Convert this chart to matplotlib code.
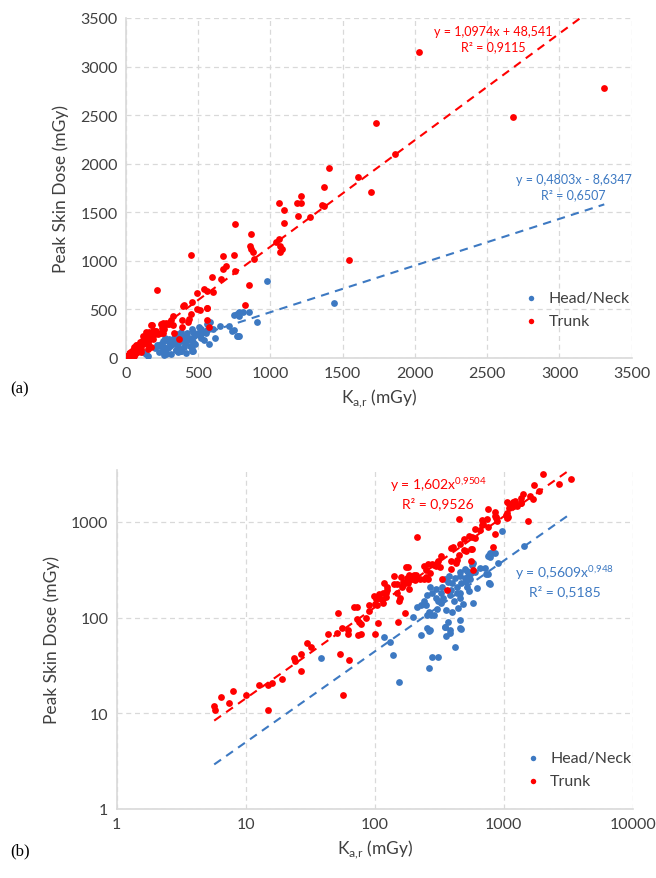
import matplotlib.pyplot as plt
import numpy as np

plt.rcParams['font.family'] = ['Lato', 'DejaVu Sans']

# Ka,r (mGy), Peak Skin Dose (mGy)
head_neck = [(976, 793), (1442, 563), (766, 450), (784, 477), (853, 477), (904, 374),
             (750, 285), (780, 223), (713, 333), (581, 374), (563, 353), (618, 203),
             (577, 141), (503, 319), (531, 271), (507, 237), (751, 444), (773, 229),
             (543, 268), (552, 254), (520, 303), (462, 271), (457, 298), (436, 208),
             (457, 182), (431, 182), (462, 160), (441, 126), (457, 94), (457, 77),
             (418, 49), (380, 69), (348, 79), (369, 89), (387, 192), (369, 234),
             (378, 271), (324, 182), (309, 148), (298, 160), (328, 143), (305, 124),
             (288, 106), (271, 106), (255, 106), (263, 115), (268, 74), (255, 78),
             (279, 39), (309, 39), (263, 30), (227, 66), (199, 102), (214, 129),
             (230, 134), (241, 148), (248, 134), (255, 171), (268, 208), (119, 62),
             (131, 55), (138, 41), (155, 21), (38.3, 37.7), (465, 75), (380, 74),
             (349, 80), (263, 73), (358, 64), (813, 475), (785, 432), (731, 282),
             (765, 227), (350, 250), (400, 230), (420, 260), (330, 210), (380, 170),
             (410, 150), (300, 200), (340, 160), (280, 180), (470, 230), (500, 260),
             (360, 120), (400, 115), (520, 210), (600, 300), (650, 330), (560, 290),
             (540, 190), (480, 140)]

trunk = [(5.7, 12.0), (5.8, 10.9), (6.4, 14.9), (7.4, 12.8), (8.0, 16.9), (10, 15.7),
         (12.6, 19.7), (14.8, 19.7), (16, 20.5), (14.8, 10.8), (19, 22.7), (23.7, 37.7),
         (24.2, 35.3), (26.7, 41.5), (26.9, 27.4), (29.6, 54.4), (32.3, 48.7), (43.2, 66.6),
         (52.3, 112), (51.4, 68.7), (55.5, 77.5), (54.2, 41.8), (62.8, 36.2), (57.1, 15.7),
         (62.5, 73.6), (62.5, 66.6), (68.7, 129), (73.3, 129), (72.5, 96), (75, 90),
         (78, 85), (74.8, 65.8), (78, 66.6), (86, 98), (91, 136), (91, 117), (98, 166),
         (101, 66.6), (106, 88), (108, 175), (116, 179), (123, 179), (111, 155), (103, 155),
         (100, 137), (116, 143), (149, 182), (156, 161), (154, 149), (184, 197), (167, 217),
         (151, 90), (173, 111), (176, 340), (140, 271), (119, 231), (161, 267), (181, 227),
         (204, 246), (223, 250), (250, 267), (266, 294), (122, 164), (124, 192), (105, 134),
         (125, 208), (141, 225), (150, 225), (164, 208), (167, 234), (177, 258), (184, 279),
         (195, 254), (201, 279), (240, 349), (248, 310), (240, 254), (258, 254), (279, 364),
         (296, 349), (305, 373), (334, 254), (387, 323), (575, 316),
         (2030, 3150), (3310, 2780), (2680, 2480), (1728, 2416), (1864, 2100), (1403, 1959),
         (1603, 1866), (1693, 1712), (1370, 1764), (1357, 1572), (1368, 1561), (1213, 1664),
         (1183, 1592), (1211, 1599), (1057, 1599), (1096, 1520), (1188, 1462), (1273, 1448),
         (1094, 1386), (752, 1376), (863, 1273), (858, 1150), (865, 1122), (877, 1088),
         (888, 1022), (1059, 1225), (1040, 1191), (1066, 1156), (1064, 1094), (1082, 1119),
         (673, 1053), (745, 1060), (452, 1060), (690, 947), (673, 916), (757, 892),
         (597, 837), (657, 816), (540, 707), (563, 690), (604, 683), (853, 751),
         (1546, 1012), (826, 546), (561, 517), (512, 497), (212, 700), (494, 669),
         (457, 580), (404, 546), (392, 532), (494, 504), (563, 515), (452, 450),
         (434, 401), (427, 367), (388, 388), (558, 388), (327, 436), (309, 394),
         (286, 353), (323, 340), (258, 360), (180, 340), (208, 278), (365, 196)]

# trend lines (Excel)
lin_trunk = (1.0974, 48.541)
lin_hn = (0.4803, -8.6347)
pow_trunk = (1.602, 0.9504)
pow_hn = (0.5609, 0.948)

hn_x, hn_y = np.array(head_neck).T
tr_x, tr_y = np.array(trunk).T
x_min = min(hn_x.min(), tr_x.min())
x_max = max(hn_x.max(), tr_x.max())

BLUE = '#3d79c2'
RED = '#ff0000'
GRID = '#d9d9d9'
TXT = '#404040'

fig = plt.figure(figsize=(6.56, 8.79), dpi=100)
ax1 = fig.add_axes([0.192, 0.5916, 0.771, 0.3868])
ax2 = fig.add_axes([0.1779, 0.0785, 0.7866, 0.386])


def style(ax, leg_y):
    ax.grid(True, color=GRID, linestyle=(0, (4, 3)), linewidth=0.9)
    ax.set_axisbelow(True)
    for s in ['top', 'right']:
        ax.spines[s].set_visible(False)
    for s in ['left', 'bottom']:
        ax.spines[s].set_color(GRID)
        ax.spines[s].set_linewidth(1.2)
    ax.tick_params(length=0, labelsize=11.5, labelcolor=TXT, pad=6)
    ax.minorticks_off()
    ax.set_xlabel(r'K$_{\mathregular{a{,}r}}$ (mGy)', fontsize=12.5, color=TXT, labelpad=5)
    ax.set_ylabel('Peak Skin Dose (mGy)', fontsize=12.5, color=TXT, labelpad=8)
    ax.scatter(hn_x, hn_y, s=24, color=BLUE, label='Head/Neck', zorder=3, linewidths=0)
    ax.scatter(tr_x, tr_y, s=24, color=RED, label='Trunk', zorder=3, linewidths=0)
    leg = ax.legend(loc='lower right', bbox_to_anchor=(1.025, leg_y), frameon=False,
                    fontsize=11.5, handletextpad=0.1, markerscale=0.8, labelspacing=0.55)
    for t in leg.get_texts():
        t.set_color(TXT)


# (a) linear
style(ax1, 0.045)
xl = np.linspace(x_min, x_max, 200)
ax1.plot(xl, lin_trunk[0] * xl + lin_trunk[1], color=RED, ls=(0, (4, 3)), lw=1.5, zorder=2)
ax1.plot(xl, lin_hn[0] * xl + lin_hn[1], color=BLUE, ls=(0, (4, 3)), lw=1.5, zorder=2)
ax1.set_xlim(0, 3500)
ax1.set_ylim(0, 3500)
ax1.set_xticks(np.arange(0, 3501, 500))
ax1.set_yticks(np.arange(0, 3501, 500))
ax1.text(2543, 3284, 'y = 1,0974x + 48,541\nR² = 0,9115', color=RED, fontsize=9,
         ha='center', va='center', linespacing=1.3)
ax1.text(3097, 1765, 'y = 0,4803x - 8,6347\nR² = 0,6507', color=BLUE, fontsize=9,
         ha='center', va='center', linespacing=1.3)

# (b) log-log
style(ax2, 0.02)
ax2.set_xscale('log')
ax2.set_yscale('log')
xg = np.geomspace(x_min, x_max, 200)
ax2.plot(xg, pow_trunk[0] * xg ** pow_trunk[1], color=RED, ls=(0, (4, 3)), lw=1.5, zorder=2)
ax2.plot(xg, pow_hn[0] * xg ** pow_hn[1], color=BLUE, ls=(0, (4, 3)), lw=1.5, zorder=2)
ax2.set_xlim(1, 10000)
ax2.set_ylim(1, 3500)
ax2.set_xticks([1, 10, 100, 1000, 10000])
ax2.set_xticklabels(['1', '10', '100', '1000', '10000'])
ax2.set_yticks([1, 10, 100, 1000])
ax2.set_yticklabels(['1', '10', '100', '1000'])
ax2.minorticks_off()
ax2.text(310, 2070, 'y = 1,602x$^{\\mathregular{0{,}9504}}$\nR² = 0,9526', color=RED,
         fontsize=10, ha='center', va='center', linespacing=1.3)
ax2.text(2977, 250, 'y = 0,5609x$^{\\mathregular{0{,}948}}$\nR² = 0,5185', color=BLUE,
         fontsize=10, ha='center', va='center', linespacing=1.3)

fig.text(0.015, 0.553, '(a)', fontsize=12, family='Liberation Serif', color='black')
fig.text(0.015, 0.027, '(b)', fontsize=12, family='Liberation Serif', color='black')

fig.savefig('out.png', dpi=100)
